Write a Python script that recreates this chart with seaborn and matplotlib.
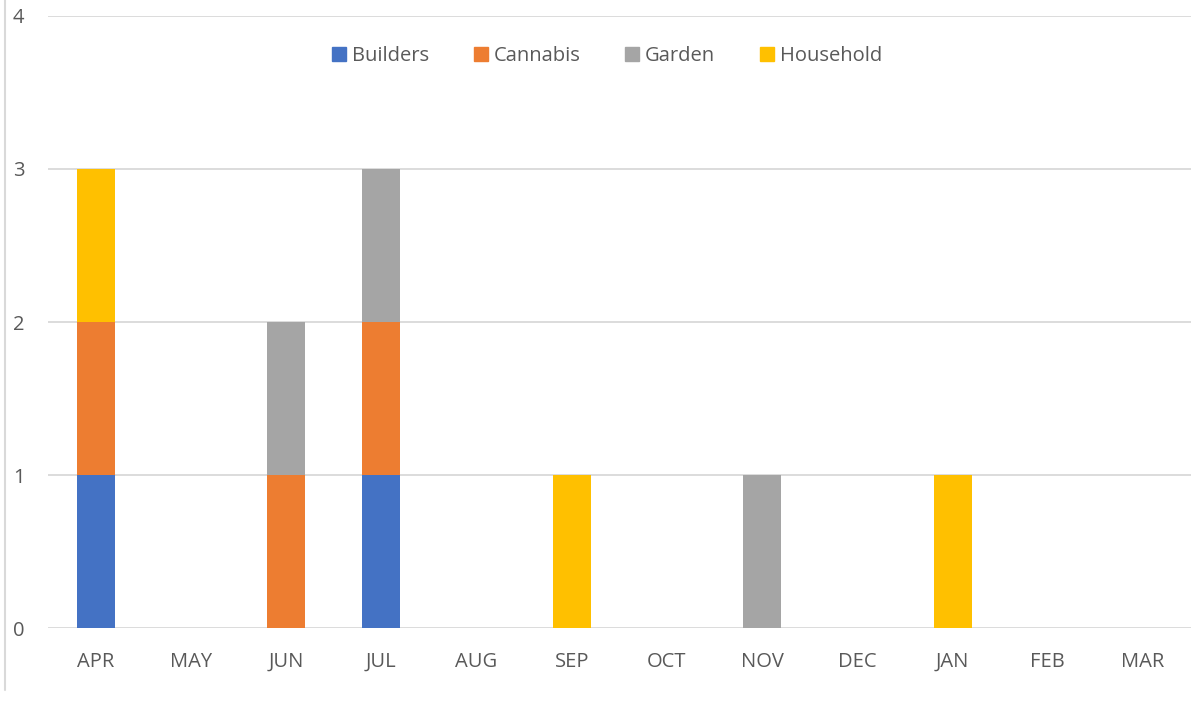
import matplotlib
matplotlib.use("Agg")
import matplotlib.pyplot as plt
import seaborn as sns
from matplotlib.lines import Line2D

months = ["APR", "MAY", "JUN", "JUL", "AUG", "SEP", "OCT", "NOV", "DEC", "JAN", "FEB", "MAR"]
builders = [1, 0, 0, 1, 0, 0, 0, 0, 0, 0, 0, 0]
cannabis = [1, 0, 1, 1, 0, 0, 0, 0, 0, 0, 0, 0]
garden = [0, 0, 1, 1, 0, 0, 0, 1, 0, 0, 0, 0]
household = [1, 0, 0, 0, 0, 1, 0, 0, 0, 1, 0, 0]

series = [("Builders", builders, "#4472C4"),
          ("Cannabis", cannabis, "#ED7D31"),
          ("Garden", garden, "#A5A5A5"),
          ("Household", household, "#FFC000")]

sns.set_style("white")
plt.rcParams['font.family'] = ['Open Sans', 'DejaVu Sans']
text_color = "#595959"

fig = plt.figure(figsize=(12.03, 7.01), dpi=100)
ax = fig.add_axes([0.0399, 0.1041, 0.9498, 0.8731])

bottom = [0] * len(months)
for name, vals, col in series:
    sns.barplot(x=months, y=vals, bottom=bottom, color=col, width=0.4,
                ax=ax, label=name, saturation=1, linewidth=0, zorder=3)
    bottom = [b + v for b, v in zip(bottom, vals)]

ax.set_ylim(0, 4)
ax.set_xlim(-0.5, len(months) - 0.5)
ax.set_yticks([0, 1, 2, 3, 4])
ax.yaxis.grid(True, color="#D9D9D9", linewidth=1.3, zorder=0)
ax.set_axisbelow(True)
for s in ax.spines.values():
    s.set_visible(False)
ax.tick_params(axis="both", length=0, labelsize=14.5, labelcolor=text_color)
ax.tick_params(axis="y", pad=17)
ax.tick_params(axis="x", pad=17)
ax.set_xlabel("")
ax.set_ylabel("")

handles = [Line2D([0], [0], marker="s", linestyle="none", markersize=10,
                  markerfacecolor=c, markeredgecolor=c) for _, _, c in series]
ax.legend(handles, [n for n, _, _ in series], loc="center",
          bbox_to_anchor=(0.488, 0.935), ncol=4, frameon=False,
          fontsize=14.5, labelcolor=text_color, handletextpad=0.15,
          columnspacing=2.05, handlelength=1.0)

# left border of the chart area
fig.add_artist(Line2D([0.0045, 0.0045], [0.015, 1.0], color="#D9D9D9", linewidth=1.5,
                      transform=fig.transFigure))

fig.savefig("out.png", dpi=100)
